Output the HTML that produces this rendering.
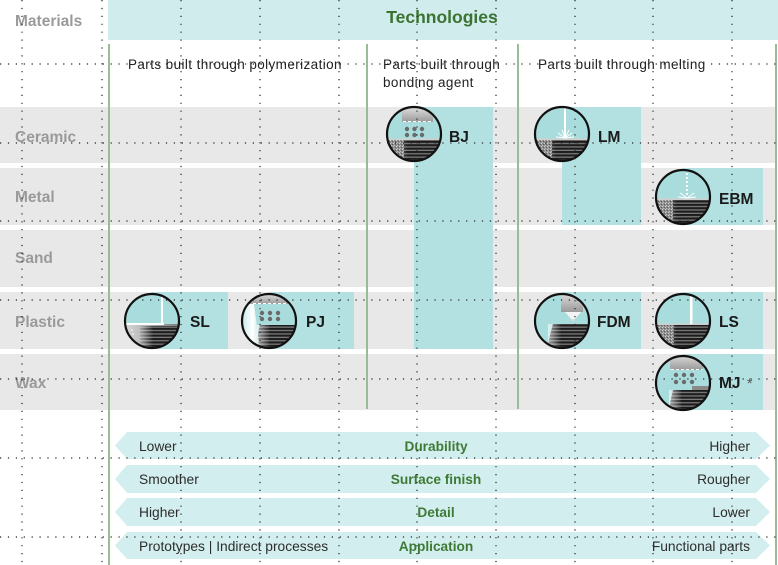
<!DOCTYPE html>
<html><head><meta charset="utf-8"><style>
html,body{margin:0;padding:0;background:#fff;}
svg{display:block;}
text{font-family:"Liberation Sans",Arial,sans-serif;}
</style></head><body>
<svg width="778" height="565" viewBox="0 0 778 565" xmlns="http://www.w3.org/2000/svg">
<defs>
  <clipPath id="cc"><circle cx="0" cy="0" r="26.8"/></clipPath>
  <pattern id="st" patternUnits="userSpaceOnUse" width="4" height="3.4">
    <rect width="4" height="3.4" fill="#7a7a7a"/>
    <rect width="4" height="2.1" fill="#1c1c1c"/>
  </pattern>
  <pattern id="pw" patternUnits="userSpaceOnUse" width="3" height="3">
    <rect width="3" height="3" fill="#8e8e8e"/>
    <rect x="0" y="0" width="1" height="1" fill="#d0d0d0"/>
    <rect x="2" y="1" width="1" height="1" fill="#5e5e5e"/>
    <rect x="1" y="2" width="1" height="1" fill="#b8b8b8"/>
  </pattern>
  <linearGradient id="fade" x1="0" x2="1" y1="0" y2="0">
    <stop offset="0" stop-color="#fff" stop-opacity="0.6"/>
    <stop offset="0.55" stop-color="#fff" stop-opacity="0"/>
  </linearGradient>
  <linearGradient id="head" x1="0" x2="0" y1="0" y2="1">
    <stop offset="0" stop-color="#e4e4e4"/>
    <stop offset="1" stop-color="#9a9a9a"/>
  </linearGradient>
  <linearGradient id="slg" x1="0" x2="1" y1="0" y2="0">
    <stop offset="0" stop-color="#d8d8d8"/>
    <stop offset="1" stop-color="#7d7d7d"/>
  </linearGradient>
  <linearGradient id="cone" x1="0" x2="1" y1="0" y2="0">
    <stop offset="0" stop-color="#fff" stop-opacity="0.3"/>
    <stop offset="0.6" stop-color="#fff" stop-opacity="1"/>
    <stop offset="1" stop-color="#fff" stop-opacity="0.4"/>
  </linearGradient>
</defs>

<!-- header -->
<rect x="108" y="0" width="670" height="40" fill="#d0ecec"/>
<text x="15" y="26" font-size="15.5" font-weight="bold" fill="#9a9a9a">Materials</text>
<text x="442" y="23" font-size="17.5" font-weight="bold" fill="#3b7332" text-anchor="middle">Technologies</text>

<!-- column headers -->
<g font-size="13.5" fill="#222" letter-spacing="0.4">
  <text x="128" y="69">Parts built through polymerization</text>
  <text x="383" y="69">Parts built through</text>
  <text x="383" y="87">bonding agent</text>
  <text x="538" y="69">Parts built through melting</text>
</g>

<!-- rows -->
<g fill="#e8e8e8">
  <rect x="0" y="107" width="776" height="56"/>
  <rect x="0" y="168" width="776" height="57"/>
  <rect x="0" y="230" width="776" height="57"/>
  <rect x="0" y="292" width="776" height="57"/>
  <rect x="0" y="354" width="776" height="56"/>
</g>
<g font-size="15.5" font-weight="bold" fill="#9a9a9a">
  <text x="15" y="142">Ceramic</text>
  <text x="15" y="202">Metal</text>
  <text x="15" y="263">Sand</text>
  <text x="15" y="327">Plastic</text>
  <text x="15" y="388">Wax</text>
</g>

<!-- teal blocks -->
<g fill="#b3e0e0">
  <rect x="414" y="107" width="79" height="242"/>
  <rect x="562" y="107" width="79" height="118"/>
  <rect x="683" y="168" width="80" height="57"/>
  <rect x="152" y="292" width="76" height="57"/>
  <rect x="269" y="292" width="85" height="57"/>
  <rect x="562" y="292" width="79" height="57"/>
  <rect x="683" y="292" width="80" height="57"/>
  <rect x="683" y="354" width="80" height="56"/>
</g>

<!-- vertical green lines -->
<g stroke="#97bd97" stroke-width="2">
  <line x1="109" y1="44" x2="109" y2="565"/>
  <line x1="367" y1="44" x2="367" y2="409"/>
  <line x1="518" y1="44" x2="518" y2="409"/>
  <line x1="776" y1="44" x2="776" y2="565"/>
</g>

<!-- ICONS -->
<!-- BJ -->
<g transform="translate(414,134)">
  <g clip-path="url(#cc)">
    <rect x="-28" y="-28" width="56" height="56" fill="#a9dcdc"/>
    <rect x="-28" y="5" width="56" height="24" fill="url(#st)"/>
    <rect x="-28" y="5" width="40" height="24" fill="url(#fade)"/>
    <rect x="-28" y="5" width="18" height="24" fill="url(#pw)"/>
    <rect x="-28" y="4.5" width="56" height="1.5" fill="#cfcfcf"/>
    <rect x="-12" y="-28" width="31" height="16" fill="url(#head)"/>
    <line x1="-11" y1="-12.5" x2="19" y2="-12.5" stroke="#fff" stroke-width="1" stroke-dasharray="3 2"/>
    <g fill="#6a6a6a">
      <circle cx="-7" cy="-5" r="2.2"/><circle cx="0.5" cy="-5" r="2.2"/><circle cx="8" cy="-5" r="2.2"/>
      <circle cx="-7" cy="1" r="2.2"/><circle cx="0.5" cy="1" r="2.2"/><circle cx="8" cy="1" r="2.2"/>
    </g>
  </g>
  <circle r="27" fill="none" stroke="#111" stroke-width="2.2"/>
</g>
<!-- LM -->
<g transform="translate(562,134)">
  <g clip-path="url(#cc)">
    <rect x="-28" y="-28" width="56" height="56" fill="#a9dcdc"/>
    <rect x="-28" y="5" width="56" height="24" fill="url(#st)"/>
    <rect x="-28" y="5" width="40" height="24" fill="url(#fade)"/>
    <rect x="-28" y="5" width="18" height="24" fill="url(#pw)"/>
    <rect x="-28" y="4.5" width="56" height="1.5" fill="#cfcfcf"/>
    <rect x="2" y="-30" width="2" height="34" fill="#fff"/>
    <g stroke="#fff" stroke-width="1">
      <line x1="3" y1="4" x2="-4" y2="-1"/><line x1="3" y1="4" x2="10" y2="-1"/>
      <line x1="3" y1="4" x2="-6" y2="3"/><line x1="3" y1="4" x2="12" y2="3"/>
      <line x1="3" y1="4" x2="0" y2="-4"/><line x1="3" y1="4" x2="7" y2="-4"/>
    </g>
  </g>
  <circle r="27" fill="none" stroke="#111" stroke-width="2.2"/>
</g>
<!-- EBM -->
<g transform="translate(683,197)">
  <g clip-path="url(#cc)">
    <rect x="-28" y="-28" width="56" height="56" fill="#a9dcdc"/>
    <rect x="-28" y="2" width="56" height="27" fill="url(#st)"/>
    <rect x="-28" y="2" width="40" height="27" fill="url(#fade)"/>
    <rect x="-28" y="2" width="18" height="27" fill="url(#pw)"/>
    <rect x="-28" y="1.5" width="56" height="1.5" fill="#cfcfcf"/>
    <line x1="4" y1="-28" x2="4" y2="-2" stroke="#fff" stroke-width="2" stroke-dasharray="2 2"/>
    <g stroke="#fff" stroke-width="1">
      <line x1="4" y1="1" x2="-3" y2="-4"/><line x1="4" y1="1" x2="11" y2="-4"/>
      <line x1="4" y1="1" x2="-5" y2="0"/><line x1="4" y1="1" x2="13" y2="0"/>
    </g>
  </g>
  <circle r="27" fill="none" stroke="#111" stroke-width="2.2"/>
</g>
<!-- LS -->
<g transform="translate(683,321)">
  <g clip-path="url(#cc)">
    <rect x="-28" y="-28" width="56" height="56" fill="#a9dcdc"/>
    <rect x="-28" y="3" width="56" height="26" fill="url(#st)"/>
    <rect x="-28" y="3" width="40" height="26" fill="url(#fade)"/>
    <rect x="-28" y="3" width="19" height="26" fill="url(#pw)"/>
    <rect x="-28" y="2.5" width="56" height="1.5" fill="#cfcfcf"/>
    <rect x="7" y="-30" width="2.5" height="33" fill="#fff"/>
  </g>
  <circle r="27" fill="none" stroke="#111" stroke-width="2.2"/>
</g>
<!-- SL -->
<g transform="translate(152,321)">
  <g clip-path="url(#cc)">
    <rect x="-28" y="-28" width="56" height="56" fill="#a9dcdc"/>
    <rect x="-28" y="3" width="56" height="26" fill="url(#slg)"/>
    <rect x="-12" y="5" width="40" height="24" fill="url(#st)"/>
    <rect x="-12" y="5" width="24" height="24" fill="url(#fade)"/>
    <rect x="-28" y="2" width="40" height="2" fill="#fff"/>
    <rect x="9" y="-30" width="2" height="33" fill="#fff"/>
    <g fill="#fff"><circle cx="-20" cy="9" r="0.8"/><circle cx="-19" cy="13" r="0.8"/><circle cx="-20" cy="17" r="0.8"/><circle cx="-19" cy="21" r="0.8"/></g>
  </g>
  <circle r="27" fill="none" stroke="#111" stroke-width="2.2"/>
</g>
<!-- PJ -->
<g transform="translate(269,321)">
  <g clip-path="url(#cc)">
    <rect x="-28" y="-28" width="56" height="56" fill="#a9dcdc"/>
    <path d="M-9 4 L28 4 L28 29 L-11 29 Q-13 16 -9 4 Z" fill="url(#st)"/>
    <rect x="-12" y="4" width="24" height="25" fill="url(#fade)"/>
    <rect x="-24" y="-28" width="48" height="11" fill="url(#head)"/>
    <line x1="-16" y1="-17.5" x2="22" y2="-17.5" stroke="#fff" stroke-width="1" stroke-dasharray="3 2"/>
    <polygon points="-24,-17 -15,-17 -9,29 -28,29" fill="url(#cone)"/>
    <g fill="#6a6a6a">
      <circle cx="-7" cy="-8" r="2.2"/><circle cx="1" cy="-8" r="2.2"/><circle cx="9" cy="-8" r="2.2"/>
      <circle cx="-7" cy="-2" r="2.2"/><circle cx="1" cy="-2" r="2.2"/><circle cx="9" cy="-2" r="2.2"/>
    </g>
  </g>
  <circle r="27" fill="none" stroke="#111" stroke-width="2.2"/>
</g>
<!-- FDM -->
<g transform="translate(562,321)">
  <g clip-path="url(#cc)">
    <rect x="-28" y="-28" width="56" height="56" fill="#a9dcdc"/>
    <path d="M-9 3 L28 3 L28 29 L-15 29 Q-13 16 -9 3 Z" fill="url(#st)"/>
    <rect x="-14" y="3" width="24" height="26" fill="url(#fade)"/>
    <rect x="-1" y="-30" width="22" height="21" fill="url(#head)"/>
    <polygon points="3,-9 19,-9 13,-2 9,-2" fill="#f4f4f4"/>
    <polygon points="9,-2 13,-2 11,1" fill="#ddd"/>
  </g>
  <circle r="27" fill="none" stroke="#111" stroke-width="2.2"/>
</g>
<!-- MJ -->
<g transform="translate(683,383)">
  <g clip-path="url(#cc)">
    <rect x="-28" y="-28" width="56" height="56" fill="#a9dcdc"/>
    <path d="M-10 7 L28 7 L28 29 L-14 29 Q-13 18 -10 7 Z" fill="url(#st)"/>
    <rect x="-14" y="7" width="24" height="22" fill="url(#fade)"/>
    <rect x="9" y="3" width="19" height="4" fill="#8a8a8a"/>
    <rect x="-13" y="-30" width="33" height="17" rx="3" fill="url(#head)"/>
    <line x1="-12" y1="-13.5" x2="19" y2="-13.5" stroke="#fff" stroke-width="1" stroke-dasharray="3 2"/>
    <g fill="#6a6a6a">
      <circle cx="-7" cy="-8" r="2.2"/><circle cx="1" cy="-8" r="2.2"/><circle cx="9" cy="-8" r="2.2"/>
      <circle cx="-7" cy="-1" r="2.2"/><circle cx="1" cy="-1" r="2.2"/><circle cx="9" cy="-1" r="2.2"/>
    </g>
  </g>
  <circle r="27" fill="none" stroke="#111" stroke-width="2.2"/>
</g>

<!-- icon labels -->
<g font-size="15.5" font-weight="bold" fill="#1a1a1a">
  <text x="449" y="142">BJ</text>
  <text x="598" y="142">LM</text>
  <text x="719" y="204">EBM</text>
  <text x="190" y="327">SL</text>
  <text x="306" y="327">PJ</text>
  <text x="597" y="327">FDM</text>
  <text x="719" y="327">LS</text>
  <text x="719" y="388">MJ</text>
</g>
<text x="747" y="388" font-size="14" fill="#555">*</text>

<!-- bottom arrows -->
<g fill="#d3eeee">
  <polygon points="127,432 756,432 770,445.5 756,459 127,459 115,445.5"/>
  <polygon points="127,465 756,465 770,479 756,493 127,493 115,479"/>
  <polygon points="127,498 756,498 770,512 756,526 127,526 115,512"/>
  <polygon points="127,532 756,532 770,545.5 756,559 127,559 115,545.5"/>
</g>
<g font-size="13.8" fill="#2d2d2d">
  <text x="139" y="451">Lower</text>
  <text x="139" y="484">Smoother</text>
  <text x="139" y="517">Higher</text>
  <text x="139" y="551">Prototypes | Indirect processes</text>
  <text x="750" y="451" text-anchor="end">Higher</text>
  <text x="750" y="484" text-anchor="end">Rougher</text>
  <text x="750" y="517" text-anchor="end">Lower</text>
  <text x="750" y="551" text-anchor="end">Functional parts</text>
</g>
<g font-size="13.7" font-weight="bold" fill="#3e7a35" text-anchor="middle">
  <text x="436" y="451">Durability</text>
  <text x="436" y="484">Surface finish</text>
  <text x="436" y="517">Detail</text>
  <text x="436" y="551">Application</text>
</g>

<!-- dotted grid overlay -->
<g stroke="#222" stroke-width="1.2" stroke-dasharray="1.2 6.7">
  <line x1="22" y1="0" x2="22" y2="565"/>
  <line x1="102" y1="0" x2="102" y2="565"/>
  <line x1="181" y1="0" x2="181" y2="565"/>
  <line x1="260" y1="0" x2="260" y2="565"/>
  <line x1="339" y1="0" x2="339" y2="565"/>
  <line x1="417" y1="0" x2="417" y2="565"/>
  <line x1="496" y1="0" x2="496" y2="565"/>
  <line x1="575" y1="0" x2="575" y2="565"/>
  <line x1="653" y1="0" x2="653" y2="565"/>
  <line x1="732" y1="0" x2="732" y2="565"/>
  <line x1="0" y1="64" x2="778" y2="64"/>
  <line x1="0" y1="143" x2="778" y2="143"/>
  <line x1="0" y1="221" x2="778" y2="221"/>
  <line x1="0" y1="300" x2="778" y2="300"/>
  <line x1="0" y1="379" x2="778" y2="379"/>
  <line x1="0" y1="458" x2="778" y2="458"/>
  <line x1="0" y1="537" x2="778" y2="537"/>
</g>
</svg>
</body></html>
